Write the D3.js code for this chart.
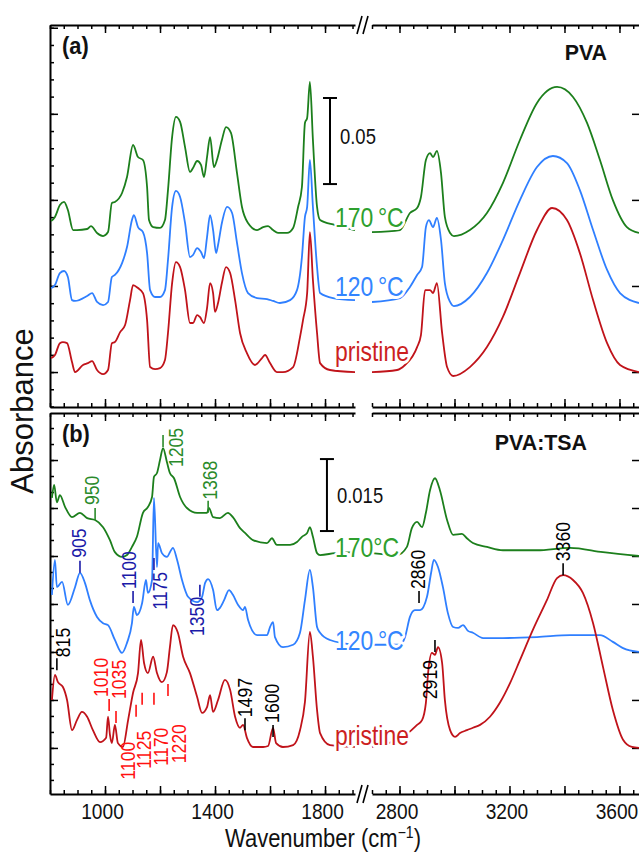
<!DOCTYPE html>
<html>
<head>
<meta charset="utf-8">
<script src="https://cdn.jsdelivr.net/npm/d3@7"></script>
<style>
  html, body { margin: 0; padding: 0; background: #fff; }
  svg { display: block; }
  text { font-family: "Liberation Sans", Arial, sans-serif; }
  .bold { font-weight: bold; }
  .axis path, .axis line { stroke: #000; }
</style>
</head>
<body>
<div id="chart"></div>
<script>
/* FTIR spectra, PVA (a) and PVA:TSA (b), broken wavenumber axis.
 * Values are [wavenumber cm-1, absorbance in mA] as plotted (offsets included). */

const xTicksMajor = [1000, 1200, 1400, 1600, 1800, 2800, 3000, 3200, 3400, 3600];
const xTickLabels = [1000, 1400, 1800, 2800, 3200, 3600];

// ---- panel (a): PVA ----
const aPristine = [
  [804,8.1],[818,9.9],[836,16.8],[847,17.4],[862,16.8],[880,5.8],[891,0],[920,4.1],[938,5.2],[953,6.4],
  [971,1.2],[993,-1.2],[1011,1.2],[1025,16.8],[1036,17.4],[1055,23.2],[1073,27.3],[1091,41.8],[1102,50.5],
  [1120,48.8],[1138,45.9],[1153,30.2],[1164,2.9],[1182,1.7],[1200,2.3],[1218,7.0],[1229,22.7],[1244,51.7],
  [1258,63.9],[1273,61.0],[1291,47.6],[1309,28.5],[1320,28.5],[1335,33.1],[1345,32.0],[1360,28.5],[1371,37.2],
  [1382,51.7],[1393,45.9],[1400,34.9],[1411,40.1],[1425,51.7],[1440,61.0],[1455,57.5],[1473,41.8],[1491,22.7],
  [1516,11.0],[1545,4.1],[1571,8.1],[1582,9.9],[1600,5.2],[1625,0],[1647,0],[1684,2.9],[1709,20.3],[1720,30.2],
  [1735,45.9],[1745,81.3],[1756,53.5],[1771,22.7],[1782,5.2],[1818,1.2],[1909,0],
  [2700,0],[2791,1.2],[2820,4.1],[2864,14.5],[2878,21.5],[2893,47.6],[2911,47.6],[2922,45.9],[2936,51.7],
  [2955,22.7],[2973,2.9],[2995,-2.3],[3056,2.9],[3118,14.5],[3176,32.0],[3238,57.5],[3300,82.5],[3355,95.3],
  [3409,88.3],[3456,69.1],[3504,41.8],[3555,16.8],[3602,4.1],[3671,0]
];
const a120 = [
  [804,48.8],[818,50.5],[836,57.5],[851,58.7],[865,55.2],[880,41.8],[891,41.3],[935,44.2],[953,45.9],[971,40.7],
  [993,38.9],[1011,40.7],[1025,55.2],[1036,56.4],[1062,63.3],[1080,72.6],[1098,88.3],[1105,91.2],[1120,84.2],
  [1138,81.3],[1153,69.1],[1164,47.6],[1182,43.6],[1200,43.6],[1218,47.6],[1229,65.1],[1244,95.9],[1258,105.2],
  [1273,101.7],[1291,86.6],[1309,66.8],[1320,68.0],[1335,72.0],[1349,69.7],[1360,66.2],[1371,78.4],[1382,91.2],
  [1393,82.5],[1404,69.1],[1411,73.8],[1425,86.6],[1444,95.9],[1462,92.4],[1480,75.0],[1498,57.5],[1520,45.9],
  [1553,43.0],[1589,42.4],[1611,41.3],[1636,40.1],[1673,41.8],[1698,47.6],[1716,66.8],[1727,90.1],[1735,95.9],
  [1745,123.2],[1756,95.9],[1771,61.0],[1782,45.9],[1829,43.0],[1909,41.8],
  [2700,40.7],[2802,43.0],[2838,49.4],[2864,56.4],[2882,61.0],[2896,84.2],[2907,88.3],[2922,84.2],[2936,89.5],
  [2951,76.7],[2965,51.7],[2984,40.7],[2998,38.3],[3056,43.6],[3118,57.5],[3176,76.7],[3238,99.9],[3300,119.1],
  [3358,125.5],[3409,121.4],[3456,105.7],[3504,82.5],[3555,59.3],[3602,45.9],[3671,40.1]
];
const a170 = [
  [804,87.7],[818,90.1],[836,97.0],[851,98.8],[865,94.1],[884,82.5],[898,82.5],[935,83.1],[949,84.8],[971,80.8],
  [993,79.0],[1011,81.3],[1025,98.2],[1036,98.8],[1062,104.0],[1080,113.3],[1102,131.9],[1120,124.9],[1138,123.2],
  [1153,107.5],[1160,88.3],[1175,84.2],[1200,83.7],[1218,88.3],[1229,105.7],[1244,136.5],[1258,148.2],[1273,145.3],
  [1291,130.7],[1309,116.2],[1320,118.5],[1335,122.6],[1349,120.3],[1360,113.3],[1371,124.9],[1382,136.5],
  [1396,119.1],[1407,123.2],[1425,134.8],[1440,142.3],[1458,138.9],[1480,115.6],[1498,95.9],[1520,86.6],
  [1553,82.5],[1575,84.2],[1593,84.8],[1611,82.5],[1629,80.8],[1662,80.8],[1684,83.7],[1702,95.9],[1716,107.5],
  [1727,144.7],[1735,147.6],[1745,168.5],[1756,134.8],[1771,95.9],[1782,88.3],[1836,85.4],[1909,82.5],
  [2700,81.3],[2802,82.5],[2838,92.4],[2864,95.3],[2878,101.7],[2896,123.2],[2911,127.2],[2922,124.9],[2936,128.4],
  [2951,115.6],[2965,90.1],[2984,80.8],[2998,79.0],[3056,82.5],[3118,92.4],[3176,109.8],[3238,134.8],[3300,156.3],
  [3373,165.6],[3431,159.8],[3482,144.7],[3529,123.2],[3576,99.9],[3627,84.2],[3671,80.8]
];

// ---- panel (b): PVA:TSA ----
const bPristine = [
  [807,10.0],[818,15.2],[829,13.7],[847,12.7],[862,10.0],[880,3.7],[898,5.8],[916,7.5],[935,6.5],[956,3.7],
  [982,1.2],[1004,2.1],[1011,6.5],[1018,2.7],[1025,1.0],[1036,4.8],[1047,1.0],[1065,0.2],[1084,5.8],[1102,11.5],
  [1120,15.6],[1131,22.5],[1142,17.7],[1156,15.6],[1175,19.0],[1189,15.6],[1207,13.7],[1225,15.8],[1236,21.0],
  [1247,25.6],[1265,24.0],[1284,19.0],[1309,15.6],[1335,10.6],[1353,7.3],[1371,8.5],[1382,11.0],[1393,7.5],
  [1411,10.0],[1436,14.2],[1455,12.1],[1473,6.5],[1491,4.2],[1502,4.8],[1516,2.1],[1538,0.2],[1575,0.2],
  [1593,0.4],[1611,4.2],[1622,1.0],[1647,0.2],[1684,0.6],[1709,3.7],[1727,9.6],[1745,24.2],[1756,19.0],
  [1771,7.9],[1782,3.1],[1818,0.6],[1909,0.2],
  [2700,0.2],[2831,3.1],[2864,4.8],[2882,5.8],[2896,9.4],[2904,15.6],[2918,19.8],[2929,19.4],[2940,21.0],
  [2955,17.7],[2965,10.0],[2984,3.7],[3002,2.3],[3020,3.1],[3045,3.7],[3067,4.2],[3093,4.8],[3129,6.5],
  [3165,9.4],[3202,13.5],[3238,18.3],[3285,24.6],[3336,30.8],[3373,35.4],[3395,36.0],[3431,35.0],[3467,32.3],
  [3504,26.0],[3540,16.9],[3576,7.9],[3613,1.7],[3645,0.2],[3671,0]
];
const b120 = [
  [807,31.9],[818,39.2],[825,33.5],[844,34.6],[865,29.8],[891,33.5],[909,36.5],[927,34.4],[945,30.8],[971,27.3],
  [993,26.0],[1011,25.6],[1036,22.5],[1062,19.8],[1080,21.9],[1098,26.0],[1105,29.4],[1116,27.7],[1135,30.2],
  [1149,35.0],[1156,32.3],[1171,35.0],[1178,52.1],[1189,37.7],[1193,42.7],[1207,40.6],[1225,39.8],[1240,41.2],
  [1247,41.7],[1262,39.2],[1280,35.0],[1302,31.5],[1335,30.4],[1353,31.5],[1364,34.4],[1375,35.2],[1393,32.9],
  [1407,28.7],[1418,29.2],[1433,30.8],[1451,32.9],[1465,31.9],[1484,29.8],[1502,28.7],[1509,29.4],[1520,26.7],
  [1553,23.5],[1589,23.5],[1600,25.2],[1611,26.2],[1618,23.1],[1647,21.0],[1684,21.5],[1709,24.0],[1727,30.8],
  [1745,37.1],[1756,33.5],[1771,25.2],[1782,24.0],[1818,22.5],[1909,21.5],
  [2700,21.5],[2802,21.5],[2820,23.1],[2838,27.3],[2856,28.7],[2875,28.7],[2900,31.5],[2915,36.5],[2925,39.2],
  [2940,37.7],[2958,33.5],[2976,28.1],[2995,25.2],[3013,25.0],[3031,25.6],[3049,24.4],[3067,24.0],[3104,22.9],
  [3176,22.9],[3300,23.1],[3420,23.5],[3529,23.5],[3576,22.1],[3613,20.8],[3671,20.0]
];
const b170 = [
  [807,52.1],[815,54.8],[825,51.2],[836,52.7],[855,50.2],[880,48.1],[909,49.0],[935,47.9],[964,47.5],[993,46.0],
  [1018,43.3],[1036,40.8],[1062,39.8],[1080,40.2],[1098,41.9],[1116,44.0],[1138,49.0],[1156,50.2],[1171,52.3],
  [1178,56.5],[1189,57.3],[1200,60.0],[1211,62.5],[1225,59.6],[1236,57.3],[1251,56.2],[1273,52.3],[1298,50.0],
  [1335,49.0],[1371,49.0],[1378,50.0],[1393,48.1],[1418,47.9],[1447,49.0],[1465,48.1],[1491,45.8],[1509,44.8],
  [1538,43.3],[1589,42.7],[1607,43.7],[1625,42.3],[1673,42.3],[1698,42.9],[1716,44.0],[1735,44.8],[1745,46.0],
  [1756,44.0],[1771,40.6],[1782,40.2],[1836,40.6],[1909,40.8],
  [2700,40.6],[2791,40.2],[2827,41.9],[2845,45.8],[2864,47.1],[2882,46.0],[2896,49.0],[2911,53.7],[2929,56.2],
  [2947,53.7],[2973,47.5],[2995,44.4],[3027,44.6],[3045,43.7],[3067,42.7],[3118,41.9],[3176,41.2],[3300,41.2],
  [3420,41.7],[3540,40.8],[3671,40.0]
];

// peak labels in (b): text, wavenumber of the dash, absorbance at the dash start,
// dir (1 = dash/text go up, -1 = go down), colour key, text x offset (px), gap dash->text (px)
const bPeakLabels = [
  ["950", 964, 47.5, 1, "g", -3, 3], ["1205", 1211, 62.7, 1, "g", 13, -32], ["1368", 1375, 49.0, 1, "g", 2, 1],
  ["905", 909, 36.5, 1, "b", -1, 3], ["1100", 1102, 30.2, 1, "b", -4, 2],
  ["1175", 1178, 39.6, -1, "b", 6, 2], ["1350", 1345, 34.0, -1, "b", -3, 0],
  ["815", 825, 16.2, 1, "k", 6, 1], ["1497", 1509, 3.7, 1, "k", 0, 1], ["1600", 1611, 2.3, 1, "k", -1, 2],
  ["2860", 2871, 30.2, 1, "k", -1, 2], ["2919", 2929, 22.5, -1, "k", -5, 8], ["3360", 3395, 36.0, 1, "k", 0, 2],
  ["1010", 1015, 7.7, 1, "r", -8, 2], ["1035", 1040, 5.2, 1, "r", 3, 12],
  ["1100", 1113, 9.0, -1, "r", -8, 25], ["1125", 1135, 11.5, -1, "r", 2, 26],
  ["1170", 1178, 11.5, -1, "r", 7, 23], ["1220", 1229, 13.3, -1, "r", 11, 28]
];

const curveColor = { pristine: "#c0131a", t120: "#2f7fff", t170: "#1c7f1c" };
const labelColor = { pristine: "#cc1f1f", t120: "#3385ff", t170: "#2ea02e" };
const peakColor = { g: "#2a8a2a", b: "#1a1aa8", k: "#000", r: "#ff1010" };

const W = 639, H = 855;
const LEFT = 50, BREAK_L = 355, BREAK_R = 372, RIGHT = 639;
const NARROW = 0.85;   // the figure's font is a condensed sans

const svg = d3.select("#chart").append("svg").attr("width", W).attr("height", H);

const xL = d3.scaleLinear().domain([800, 1909]).range([LEFT, BREAK_L]);
const xR = d3.scaleLinear().domain([2700, 3671]).range([BREAK_R, RIGHT]);
const xOf = wn => wn < 2300 ? xL(wn) : xR(wn);

function ntext(parent, x, y, str, size, sx) {
  return parent.append("text")
    .attr("transform", `translate(${x},${y}) scale(${sx || NARROW},1)`)
    .attr("font-size", size).attr("fill", "#111").text(str);
}

function xAxes(g, y, inward, labels) {
  const sets = [[xL, 800, 1900], [xR, 2700, 3650]];
  sets.forEach(([sc, a, b]) => {
    const minor = d3.range(a, b + 1, 50);
    const major = xTicksMajor.filter(v => v >= a && v <= b + 50);
    const dirMul = inward === "down" ? 1 : -1;
    g.append("g").attr("class", "axis").attr("transform", `translate(0,${y})`)
      .call(d3.axisBottom(sc).tickValues(minor).tickSizeInner(4 * dirMul).tickSizeOuter(0).tickFormat(""))
      .call(s => s.selectAll("line").attr("stroke-width", 1.5))
      .call(s => s.select(".domain").attr("stroke-width", 2));
    g.append("g").attr("class", "axis").attr("transform", `translate(0,${y})`)
      .call(d3.axisBottom(sc).tickValues(major).tickSizeInner(8 * dirMul).tickSizeOuter(0).tickPadding(9)
        .tickFormat(d => labels && xTickLabels.includes(d) ? d : ""))
      .call(s => s.select(".domain").remove())
      .call(s => s.selectAll("line").attr("stroke-width", 1.5))
      .call(s => s.selectAll("text").attr("font-size", 22.5).attr("fill", "#111")
        .attr("font-family", '"Liberation Sans",Arial,sans-serif')
        .attr("transform", `translate(-3,0) scale(${NARROW},1)`));
  });
}

function breakMarks(y) {
  [0, 6].forEach(dx => {
    svg.append("line").attr("x1", 357 + dx).attr("y1", y + 9).attr("x2", 362 + dx).attr("y2", y - 9)
      .attr("stroke", "#000").attr("stroke-width", 1.6);
  });
}

function panel(opts) {
  const { top, bottom, domain, series, majorStep, minorStep, rightStep } = opts;
  const y = d3.scaleLinear().domain(domain).range([bottom, top]);
  const g = svg.append("g");

  // y axis, left (inward ticks)
  const yTicks = d3.range(Math.ceil(domain[0] / minorStep) * minorStep, domain[1], minorStep);
  const yMajor = yTicks.filter(v => Math.abs(v / majorStep - Math.round(v / majorStep)) < 1e-6);
  g.append("g").attr("class", "axis").attr("transform", `translate(${LEFT},0)`)
    .call(d3.axisLeft(y).tickValues(yTicks).tickSizeInner(-4).tickSizeOuter(0).tickFormat(""))
    .call(s => s.select(".domain").attr("stroke-width", 2))
    .call(s => s.selectAll("line").attr("stroke-width", 1.5));
  g.append("g").attr("class", "axis").attr("transform", `translate(${LEFT},0)`)
    .call(d3.axisLeft(y).tickValues(yMajor).tickSizeInner(-8).tickSizeOuter(0).tickFormat(""))
    .call(s => s.select(".domain").remove())
    .call(s => s.selectAll("line").attr("stroke-width", 1.5));
  // right side ticks only
  const yRight = d3.range(0, domain[1] - rightStep * 0.5, rightStep);
  g.append("g").attr("class", "axis").attr("transform", `translate(${RIGHT},0)`)
    .call(d3.axisRight(y).tickValues(yRight).tickSizeInner(-7).tickSizeOuter(0).tickFormat(""))
    .call(s => s.select(".domain").remove())
    .call(s => s.selectAll("line").attr("stroke-width", 1.5));

  xAxes(g, top, "down", false);
  xAxes(g, bottom, "up", opts.labels);

  const clipL = d => d[0] <= 1909, clipR = d => d[0] >= 2700;
  const lineL = d3.line().x(d => xL(d[0])).y(d => y(d[1])).curve(d3.curveMonotoneX);
  const lineR = d3.line().x(d => xR(d[0])).y(d => y(d[1])).curve(d3.curveMonotoneX);
  series.forEach(s => {
    [[lineL, clipL], [lineR, clipR]].forEach(([ln, f]) => {
      g.append("path").datum(s.values.filter(f)).attr("d", ln)
        .attr("fill", "none").attr("stroke", s.color).attr("stroke-width", 1.8)
        .attr("stroke-linejoin", "round");
    });
  });

  // series name labels, white halo over the curves
  series.forEach(s => {
    ntext(g, 335, y(s.labelAt), s.name, 28, 0.82).attr("fill", s.labelColor)
      .attr("stroke", "#fff").attr("stroke-width", 6).attr("paint-order", "stroke")
      .attr("stroke-linejoin", "round");
  });

  // scale bar
  const sb = opts.scaleBar;
  const sx = xL(sb.wn);
  g.append("line").attr("x1", sx).attr("x2", sx).attr("y1", y(sb.from)).attr("y2", y(sb.from + sb.len))
    .attr("stroke", "#000").attr("stroke-width", 2);
  [sb.from, sb.from + sb.len].forEach(v => g.append("line")
    .attr("x1", sx - 7).attr("x2", sx + 7).attr("y1", y(v)).attr("y2", y(v))
    .attr("stroke", "#000").attr("stroke-width", 2));
  ntext(g, sx + 10, y(sb.from + sb.len / 2) + sb.textDy, sb.text, 22, 0.84);

  ntext(g, 62, top + 29, opts.tag, 23, 0.95).attr("class", "bold");
  ntext(g, opts.titleX, top + opts.titleDy, opts.title, 23, 0.93).attr("class", "bold")
    .attr("text-anchor", "end");

  return { g, y };
}

const pa = panel({
  top: 25, bottom: 407, domain: [-20.3, 201.6], majorStep: 50, minorStep: 10, rightStep: 50,
  series: [
    { name: "170\u2009°C", values: a170, color: curveColor.t170, labelColor: labelColor.t170, labelAt: 84.5 },
    { name: "120\u2009°C", values: a120, color: curveColor.t120, labelColor: labelColor.t120, labelAt: 44 },
    { name: "pristine", values: aPristine, color: curveColor.pristine, labelColor: labelColor.pristine, labelAt: 6.4 }
  ],
  scaleBar: { wn: 1818, from: 109.2, len: 50, text: "0.05", textDy: 3 },
  tag: "(a)", title: "PVA", titleX: 607, titleDy: 35, labels: false
});

const pb = panel({
  top: 413, bottom: 794, domain: [-9.6, 69.8], majorStep: 10, minorStep: 10 / 3, rightStep: 10,
  series: [
    { name: "170°C", values: b170, color: curveColor.t170, labelColor: labelColor.t170, labelAt: 39.8 },
    { name: "120\u2009°C", values: b120, color: curveColor.t120, labelColor: labelColor.t120, labelAt: 20.4 },
    { name: "pristine", values: bPristine, color: curveColor.pristine, labelColor: labelColor.pristine, labelAt: 0.6 }
  ],
  scaleBar: { wn: 1807, from: 45.2, len: 15, text: "0.015", textDy: 8 },
  tag: "(b)", title: "PVA:TSA", titleX: 587, titleDy: 37, labels: true
});

// peak annotations in (b): short dash then rotated number
bPeakLabels.forEach(([txt, wn, a, dir, c, dx, gap]) => {
  const x = xOf(wn), y0 = pb.y(a), dash = 12;
  pb.g.append("line").attr("x1", x).attr("x2", x).attr("y1", y0).attr("y2", y0 - dir * dash)
    .attr("stroke", peakColor[c]).attr("stroke-width", 1.6);
  const ty = y0 - dir * (dash + gap);
  pb.g.append("text")
    .attr("transform", `translate(${x + dx + 7},${ty}) rotate(-90) scale(0.84,1)`)
    .attr("text-anchor", dir > 0 ? "start" : "end").text(txt)
    .attr("font-size", 21).attr("fill", peakColor[c]);
});

breakMarks(25);
breakMarks(794);

svg.append("text").attr("transform", "translate(33,411) rotate(-90)").attr("text-anchor", "middle")
  .text("Absorbance").attr("font-size", 31).attr("fill", "#111");
const xt = svg.append("text").attr("transform", `translate(323,847) scale(0.88,1)`)
  .attr("text-anchor", "middle").attr("font-size", 25).attr("fill", "#111");
xt.append("tspan").text("Wavenumber (cm");
xt.append("tspan").text("\u22121").attr("font-size", 16).attr("dy", -9);
xt.append("tspan").text(")").attr("dy", 9);
</script>
</body>
</html>
